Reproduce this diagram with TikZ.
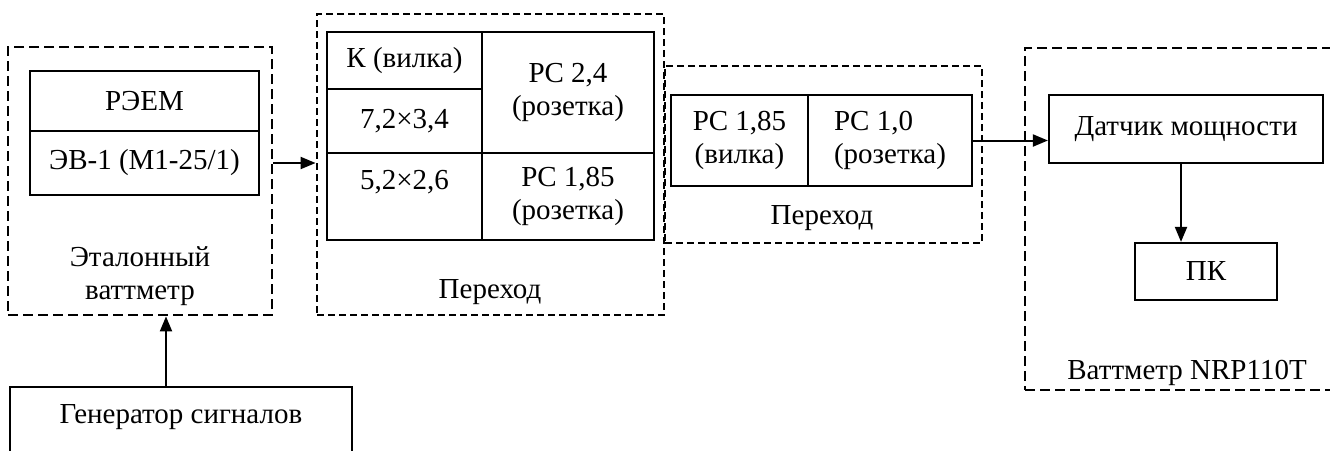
\documentclass[tikz,border=0pt]{standalone}
\usepackage{fontspec}
\setmainfont{Liberation Serif}
\usetikzlibrary{arrows.meta}
\begin{document}
\begin{tikzpicture}[x=1pt,y=-1pt,
  every node/.style={font=\fontsize{29}{33}\selectfont, inner sep=0pt},
  cell/.style={draw, line width=2.2pt, align=center},
  grp/.style={draw, line width=2.8pt, dash pattern=on 10pt off 5pt},
  grpb/.style={draw, line width=2.8pt, dash pattern=on 7pt off 4pt},
  lbl/.style={align=center},
  arr/.style={line width=2pt, -{Triangle[length=15pt,width=12pt]}}]
\useasboundingbox (0,0) rectangle (1330,450);
\clip (0,0) rectangle (1330,450);
% group 1
\node[grp, minimum width=264pt, minimum height=268pt] (b1) at (140,181) {};
\node[cell, minimum width=229pt, minimum height=60pt] (rem) at (144.5,101) {РЭЕМ};
\node[cell, minimum width=229pt, minimum height=64pt] (ev) at (144.5,163) {ЭВ-1 (М1-25/1)};
\node[lbl] (l1) at (140,276) {Эталонный\\ваттметр};
% generator
\node[cell, minimum width=342pt, minimum height=90pt] (gen) at (181,432) {};
\node (gent) at (181,417) {Генератор сигналов};
\coordinate (g1) at (166,387);
\draw[arr] (g1) -- (g1 |- b1.south);
% group 2
\node[grpb, minimum width=347pt, minimum height=301pt] (b2) at (490.5,164.5) {};
\node[cell, minimum width=155pt, minimum height=57pt] (c1) at (404.5,60.5) {К (вилка)};
\node[cell, minimum width=155pt, minimum height=64pt] (c2) at (404.5,121) {7,2×3,4};
\node[cell, minimum width=155pt, minimum height=87pt] (c3) at (404.5,196.5) {};
\node (c3t) at (404.5,182) {5,2×2,6};
\node[cell, minimum width=172pt, minimum height=121pt] (c4) at (568,92.5) {PC 2,4\\(розетка)};
\node[cell, minimum width=172pt, minimum height=87pt] (c5) at (568,196.5) {PC 1,85\\(розетка)};
\node (l2) at (490,292) {Переход};
\draw[arr] (b1.east |- ev) -- (b2.west |- ev);
% group 3
\node[grpb, minimum width=317pt, minimum height=177pt] (b3) at (823.5,154.5) {};
\node[cell, minimum width=137pt, minimum height=91pt] (c6) at (739.5,140.5) {PC 1,85\\(вилка)};
\node[cell, minimum width=164pt, minimum height=91pt, align=left] (c7) at (890,140.5) {PC 1,0\\(розетка)};
\node (l3) at (822,218) {Переход};
% group 4
\node[grp, minimum width=320pt, minimum height=342pt] (b4) at (1185,219) {};
\node[cell, minimum width=274pt, minimum height=68pt] (dat) at (1186,129) {Датчик мощности};
\node[cell, minimum width=142pt, minimum height=57pt] (pk) at (1206,271.5) {ПК};
\node (l4) at (1187,373) {Ваттметр NRP110T};
\draw[arr] (c7.east) -- (c7.east -| dat.west);
\coordinate (d1) at (1181,163);
\draw[arr] (d1) -- (d1 |- pk.north);
\end{tikzpicture}
\end{document}
